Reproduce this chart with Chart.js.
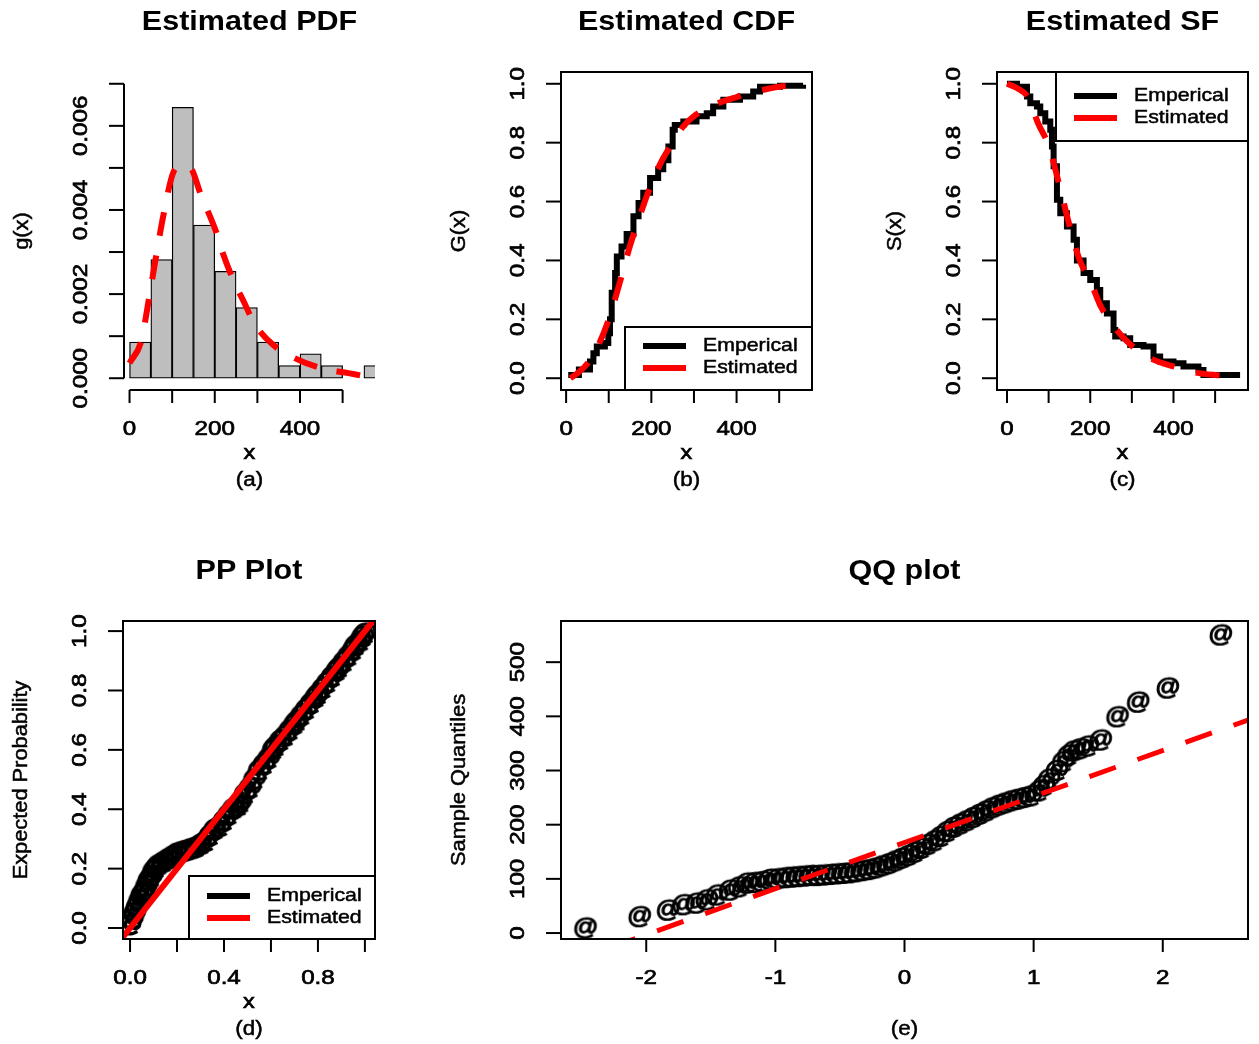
<!DOCTYPE html>
<html>
<head>
<meta charset="utf-8">
<script src="https://cdn.jsdelivr.net/npm/chart.js@4.4.0/dist/chart.umd.min.js"></script>
<style>
html, body { margin: 0; padding: 0; background: #fff; }
#wrap { position: relative; width: 1259px; height: 1044px; overflow: hidden; }
canvas { position: absolute; left: 0; top: 0; }
</style>
</head>
<body>
<div id="wrap">
  <canvas id="pdf" width="1259" height="1044"></canvas>
  <canvas id="cdf" width="1259" height="1044"></canvas>
  <canvas id="sf" width="1259" height="1044"></canvas>
  <canvas id="pp" width="1259" height="1044"></canvas>
  <canvas id="qq" width="1259" height="1044"></canvas>
</div>
<script>
// (a) histogram and fitted density
const histMids = [25, 75, 125, 175, 225, 275, 325, 375, 425, 475, 525, 575];
const histDensity = [0.00086, 0.00282, 0.00644, 0.00364, 0.00254, 0.00168, 0.00086, 0.0003, 0.00058, 0.0003, 0, 0.0003];
const pdfX = [0, 28, 44, 64, 80, 103, 123, 143, 166, 206, 218, 245, 269, 293, 336, 387, 450, 514, 557, 580];
const pdfY = [0.00036, 0.0009, 0.0018, 0.003, 0.0039, 0.0049, 0.00505, 0.005, 0.0044, 0.0034, 0.003, 0.0023, 0.0018, 0.0013, 0.0008, 0.00048, 0.00024, 0.00012, 0.00004, 0.00001];

// (b) empirical and estimated CDF
const ecdfX = [5, 30, 56, 64, 72, 91, 99, 103, 107, 115, 119, 130, 142, 158, 170, 181, 197, 216, 228, 240, 250, 255, 275, 306, 330, 345, 369, 408, 439, 455, 502, 556];
const ecdfY = [0.011, 0.03, 0.057, 0.085, 0.108, 0.12, 0.153, 0.2, 0.29, 0.357, 0.413, 0.447, 0.49, 0.55, 0.595, 0.63, 0.68, 0.71, 0.74, 0.787, 0.844, 0.86, 0.872, 0.89, 0.9, 0.923, 0.946, 0.957, 0.974, 0.99, 0.993, 0.997];
const cdfX = [10, 25, 50, 75, 100, 125, 150, 175, 200, 225, 250, 275, 300, 350, 400, 450, 500, 555];
const cdfY = [0.0, 0.015, 0.05, 0.11, 0.2, 0.32, 0.45, 0.56, 0.66, 0.74, 0.80, 0.855, 0.89, 0.93, 0.955, 0.975, 0.99, 0.997];

// (c) empirical and estimated survival function
const esfX = [0, 24, 48, 56, 72, 80, 92, 104, 108, 112, 120, 128, 144, 160, 168, 184, 200, 216, 224, 240, 256, 260, 280, 296, 328, 352, 368, 400, 424, 460, 472, 560];
const esfY = [1.0, 0.99, 0.957, 0.934, 0.923, 0.9, 0.872, 0.844, 0.787, 0.72, 0.606, 0.56, 0.515, 0.47, 0.40, 0.357, 0.334, 0.3, 0.255, 0.22, 0.164, 0.142, 0.136, 0.113, 0.108, 0.074, 0.057, 0.051, 0.04, 0.028, 0.011, 0.011];
const sfX = [0, 25, 50, 75, 100, 125, 150, 175, 200, 225, 250, 275, 300, 350, 400, 450, 500, 560];
const sfY = [1.0, 0.985, 0.955, 0.865, 0.79, 0.66, 0.52, 0.40, 0.33, 0.245, 0.19, 0.145, 0.11, 0.064, 0.04, 0.02, 0.011, 0.006];

// (d) PP plot
const ppX = [0.00, 0.01, 0.02, 0.03, 0.04, 0.05, 0.06, 0.07, 0.08, 0.09, 0.10, 0.11, 0.12, 0.14, 0.16, 0.18, 0.20, 0.22, 0.24, 0.26, 0.28, 0.30, 0.32, 0.34, 0.36, 0.38, 0.40, 0.42, 0.44, 0.46, 0.47, 0.49, 0.51, 0.53, 0.55, 0.57, 0.59, 0.61, 0.62, 0.64, 0.66, 0.68, 0.70, 0.71, 0.73, 0.75, 0.77, 0.79, 0.80, 0.82, 0.84, 0.86, 0.88, 0.89, 0.91, 0.93, 0.95, 0.96, 0.98, 0.99, 1.0];
const ppY = [0.01, 0.03, 0.05, 0.07, 0.09, 0.11, 0.12, 0.14, 0.16, 0.17, 0.19, 0.20, 0.21, 0.22, 0.23, 0.24, 0.25, 0.255, 0.26, 0.265, 0.27, 0.28, 0.29, 0.31, 0.33, 0.34, 0.36, 0.38, 0.40, 0.41, 0.42, 0.45, 0.47, 0.50, 0.53, 0.55, 0.57, 0.60, 0.61, 0.63, 0.645, 0.665, 0.685, 0.695, 0.715, 0.735, 0.755, 0.775, 0.785, 0.805, 0.825, 0.845, 0.865, 0.875, 0.895, 0.915, 0.935, 0.95, 0.965, 0.98, 0.99];
const ppIntercept = 0;
const ppSlope = 1;

// (e) QQ plot
const qqTheo = [-2.47, -2.05, -1.83, -1.71, -1.61, -1.53, -1.45, -1.35, -1.28, -1.22, -1.16, -1.10, -1.04, -0.98, -0.92, -0.87, -0.82, -0.77, -0.72, -0.67, -0.62, -0.57, -0.52, -0.47, -0.42, -0.37, -0.32, -0.27, -0.22, -0.17, -0.12, -0.07, -0.02, 0.03, 0.08, 0.13, 0.18, 0.23, 0.28, 0.33, 0.38, 0.43, 0.48, 0.53, 0.58, 0.63, 0.68, 0.73, 0.78, 0.83, 0.88, 0.93, 0.98, 1.04, 1.08, 1.12, 1.18, 1.23, 1.27, 1.31, 1.36, 1.42, 1.52, 1.65, 1.81, 2.04, 2.45];
const qqSample = [9, 30, 42, 52, 55, 61, 70, 79, 85, 92, 93, 95, 99, 100, 102, 103, 104, 105, 106, 106, 107, 108, 109, 110, 111, 113, 115, 117, 120, 124, 128, 133, 138, 143, 149, 156, 163, 170, 178, 187, 195, 201, 207, 213, 219, 225, 231, 236, 240, 244, 247, 250, 253, 262, 272, 284, 300, 316, 328, 336, 340, 345, 356, 399, 426, 452, 550];
const qqIntercept = 167;
const qqSlope = 85;

// axis ticks and labels
const pdfXTicks = [0, 100, 200, 300, 400, 500];
const pdfXLabels = ['0', '', '200', '', '400', ''];
const pdfYTicks = [0, 0.001, 0.002, 0.003, 0.004, 0.005, 0.006, 0.007];
const pdfYLabels = ['0.000', '', '0.002', '', '0.004', '', '0.006', ''];
const probTicks = [0, 0.2, 0.4, 0.6, 0.8, 1.0];
const probLabels = ['0.0', '0.2', '0.4', '0.6', '0.8', '1.0'];
const ppXLabels = ['0.0', '', '0.4', '', '0.8', ''];
const qqXTicks = [-2, -1, 0, 1, 2];
const qqXLabels = ['-2', '-1', '0', '1', '2'];
const qqYTicks = [0, 100, 200, 300, 400, 500];
const qqYLabels = ['0', '100', '200', '300', '400', '500'];

const RED = '#ff0000';
const FONT = '"Liberation Sans", Arial, sans-serif';

function pts(xs, ys) { return xs.map((x, i) => ({ x: x, y: ys[i] })); }

// text with a slight horizontal stretch and optional rotation
function txt(ctx, s, x, y, font, sx, rot, align, heavy) {
    ctx.save();
    ctx.translate(x, y);
    if (rot) ctx.rotate(rot);
    ctx.scale(sx, 1);
    ctx.font = font;
    ctx.textAlign = align || 'center';
    ctx.textBaseline = 'middle';
    ctx.fillText(s, 0, 0);
    if (heavy) {
        ctx.lineWidth = heavy;
        ctx.strokeStyle = ctx.fillStyle;
        ctx.strokeText(s, 0, 0);
    }
    ctx.restore();
}

function seg(ctx, x1, y1, x2, y2) {
    ctx.beginPath();
    ctx.moveTo(x1, y1);
    ctx.lineTo(x2, y2);
    ctx.stroke();
}

// R-like axes, titles and legend drawn on the chart's own scales
const rAxes = {
    id: 'rAxes',
    afterDraw(chart, args, o) {
        const ctx = chart.ctx;
        const a = chart.chartArea;
        const x = chart.scales.x, y = chart.scales.y;
        ctx.save();
        ctx.strokeStyle = '#000';
        ctx.fillStyle = '#000';
        ctx.lineWidth = 2;
        if (o.box) {
            ctx.strokeRect(a.left, a.top, a.right - a.left, a.bottom - a.top);
        } else {
            seg(ctx, x.getPixelForValue(o.xTicks[0]), a.bottom, x.getPixelForValue(o.xTicks[o.xTicks.length - 1]), a.bottom);
            seg(ctx, a.left, y.getPixelForValue(o.yTicks[0]), a.left, y.getPixelForValue(o.yTicks[o.yTicks.length - 1]));
        }
        const tickFont = '21px ' + FONT;
        o.xTicks.forEach((v, i) => {
            const px = x.getPixelForValue(v);
            ctx.lineWidth = 2;
            seg(ctx, px, a.bottom, px, a.bottom + 13);
            if (o.xLabels[i]) txt(ctx, o.xLabels[i], px, a.bottom + 39, tickFont, 1.15, 0, 'center', 0.7);
        });
        o.yTicks.forEach((v, i) => {
            const py = y.getPixelForValue(v);
            ctx.lineWidth = 2;
            seg(ctx, a.left - 15, py, a.left, py);
            if (o.yLabels[i]) txt(ctx, o.yLabels[i], a.left - 43, py, tickFont, 1.15, -Math.PI / 2, 'center', 0.7);
        });
        const cx = (a.left + a.right) / 2;
        txt(ctx, o.title, cx, a.top - 50, 'bold 28px ' + FONT, 1.09, 0);
        if (o.xTitle) txt(ctx, o.xTitle, cx, a.bottom + 63, '21px ' + FONT, 1.12, 0, 'center', 0.7);
        txt(ctx, o.tag, cx, a.bottom + 90, '20px ' + FONT, 1.12, 0, 'center', 0.5);
        txt(ctx, o.yTitle, a.left - 102, (a.top + a.bottom) / 2, '20px ' + FONT, 1.09, -Math.PI / 2, 'center', 0.5);

        if (o.legend) {
            const L = o.legend;
            const bx = a.right - L.w;
            const by = L.corner === 'tr' ? a.top : a.bottom - L.h;
            ctx.lineWidth = 2;
            ctx.strokeRect(bx, by, L.w, L.h);
            L.items.forEach((it, i) => {
                const ry = by + L.rowTop + i * 22;
                ctx.strokeStyle = it.color;
                ctx.lineWidth = 6;
                seg(ctx, bx + 18, ry, bx + 61, ry);
                ctx.fillStyle = '#000';
                txt(ctx, it.label, bx + 78, ry, '19px ' + FONT, 1.12, 0, 'left', 0.5);
            });
        }
        ctx.restore();
    }
};

const legendItems = [{ label: 'Emperical', color: '#000' }, { label: 'Estimated', color: RED }];

function area(left, top, right, bottom) {
    return { left: left, top: top, right: 1259 - right, bottom: 1044 - bottom };
}

function baseOptions(pad, xr, yr, axes) {
    return {
        responsive: false,
        animation: false,
        events: [],
        layout: { padding: pad },
        plugins: { legend: { display: false }, tooltip: { enabled: false }, rAxes: axes },
        scales: {
            x: { type: 'linear', display: false, min: xr[0], max: xr[1], offset: false },
            y: { type: 'linear', display: false, min: yr[0], max: yr[1] }
        }
    };
}

// "@" plotting character used as the point style
function atGlyph(px, sx, weight, stroke) {
    const c = document.createElement('canvas');
    c.width = Math.ceil(px * 1.3);
    c.height = Math.ceil(px * 1.1);
    const g = c.getContext('2d');
    g.translate(c.width / 2, c.height / 2);
    g.scale(sx, 1);
    g.font = weight + ' ' + px + 'px ' + FONT;
    g.textAlign = 'center';
    g.textBaseline = 'middle';
    g.fillStyle = '#000';
    g.fillText('@', 0, 0);
    if (stroke) {
        g.lineWidth = stroke;
        g.strokeStyle = '#000';
        g.strokeText('@', 0, 0);
    }
    return c;
}

Chart.register(rAxes);

// (a) Estimated PDF
const pdfOpts = baseOptions(area(124, 72, 375, 390), [-13, 576], [-0.00028, 0.00728], {
    box: false, xTicks: pdfXTicks, xLabels: pdfXLabels, yTicks: pdfYTicks, yLabels: pdfYLabels,
    title: 'Estimated PDF', xTitle: 'x', tag: '(a)', yTitle: 'g(x)'
});
pdfOpts.scales.x.afterBuildTicks = s => { s.ticks = histMids.map(m => ({ value: m - 25 })); };
new Chart(document.getElementById('pdf'), {
    type: 'bar',
    data: {
        datasets: [
            {
                type: 'line', order: 0, data: pts(pdfX, pdfY),
                borderColor: RED, borderWidth: 6, borderDash: [24, 20], pointRadius: 0,
                cubicInterpolationMode: 'monotone', clip: 0
            },
            {
                type: 'bar', order: 1, data: pts(histMids, histDensity),
                backgroundColor: '#bebebe', borderColor: '#000', borderWidth: 1.3, borderSkipped: false,
                barPercentage: 1, categoryPercentage: 1, grouped: false, clip: 0
            }
        ]
    },
    options: pdfOpts
});

// (b) Estimated CDF
new Chart(document.getElementById('cdf'), {
    type: 'line',
    data: {
        datasets: [
            {
                order: 0, data: pts(cdfX, cdfY), borderColor: RED, borderWidth: 6,
                borderDash: [24, 22], pointRadius: 0, cubicInterpolationMode: 'monotone', clip: 0
            },
            {
                order: 1, data: pts(ecdfX, ecdfY), borderColor: '#000', borderWidth: 6,
                stepped: 'before', pointRadius: 0, clip: 0
            }
        ]
    },
    options: baseOptions(area(561, 72, 812, 390), [-12, 577], [-0.04, 1.04], {
        box: true, xTicks: pdfXTicks, xLabels: pdfXLabels, yTicks: probTicks, yLabels: probLabels,
        title: 'Estimated CDF', xTitle: 'x', tag: '(b)', yTitle: 'G(x)',
        legend: { corner: 'br', w: 187, h: 63, rowTop: 19, items: legendItems }
    })
});

// (c) Estimated SF
new Chart(document.getElementById('sf'), {
    type: 'line',
    data: {
        datasets: [
            {
                order: 0, data: pts(sfX, sfY), borderColor: RED, borderWidth: 6,
                borderDash: [24, 22], pointRadius: 0, cubicInterpolationMode: 'monotone', clip: 0
            },
            {
                order: 1, data: pts(esfX, esfY), borderColor: '#000', borderWidth: 6,
                stepped: 'before', pointRadius: 0, clip: 0
            }
        ]
    },
    options: baseOptions(area(997, 72, 1248, 390), [-24, 579], [-0.04, 1.04], {
        box: true, xTicks: pdfXTicks, xLabels: pdfXLabels, yTicks: probTicks, yLabels: probLabels,
        title: 'Estimated SF', xTitle: 'x', tag: '(c)', yTitle: 'S(x)',
        legend: { corner: 'tr', w: 192, h: 69, rowTop: 24, items: legendItems }
    })
});

// (d) PP Plot
const ppRange = [-0.03, 1.043];
new Chart(document.getElementById('pp'), {
    type: 'line',
    data: {
        datasets: [
            {
                order: 0, borderColor: RED, borderWidth: 6, pointRadius: 0, clip: 0,
                data: ppRange.map(v => ({ x: v, y: ppIntercept + ppSlope * v }))
            },
            {
                order: 1, data: pts(ppX, ppY), showLine: false,
                pointStyle: atGlyph(23, 1.1, 'bold', 1.4), pointRadius: 3, clip: 0
            }
        ]
    },
    options: baseOptions(area(123, 621, 375, 939), ppRange, [-0.037, 1.034], {
        box: true, xTicks: probTicks, xLabels: ppXLabels, yTicks: probTicks, yLabels: probLabels,
        title: 'PP Plot', xTitle: 'x', tag: '(d)', yTitle: 'Expected Probability',
        legend: { corner: 'br', w: 186, h: 63, rowTop: 20, items: legendItems }
    })
});

// (e) QQ plot
const qqRange = [-2.66, 2.66];
new Chart(document.getElementById('qq'), {
    type: 'line',
    data: {
        datasets: [
            {
                order: 0, borderColor: RED, borderWidth: 5, borderDash: [28, 23], pointRadius: 0, clip: 0,
                data: qqRange.map(v => ({ x: v, y: qqIntercept + qqSlope * v }))
            },
            {
                order: 1, data: pts(qqTheo, qqSample), showLine: false,
                pointStyle: atGlyph(24, 1.05, 'normal', 1.2), pointRadius: 3, clip: 0
            }
        ]
    },
    options: baseOptions(area(561, 621, 1248, 939), qqRange, [-11, 576], {
        box: true, xTicks: qqXTicks, xLabels: qqXLabels, yTicks: qqYTicks, yLabels: qqYLabels,
        title: 'QQ plot', xTitle: '', tag: '(e)', yTitle: 'Sample Quantiles'
    })
});
</script>
</body>
</html>
